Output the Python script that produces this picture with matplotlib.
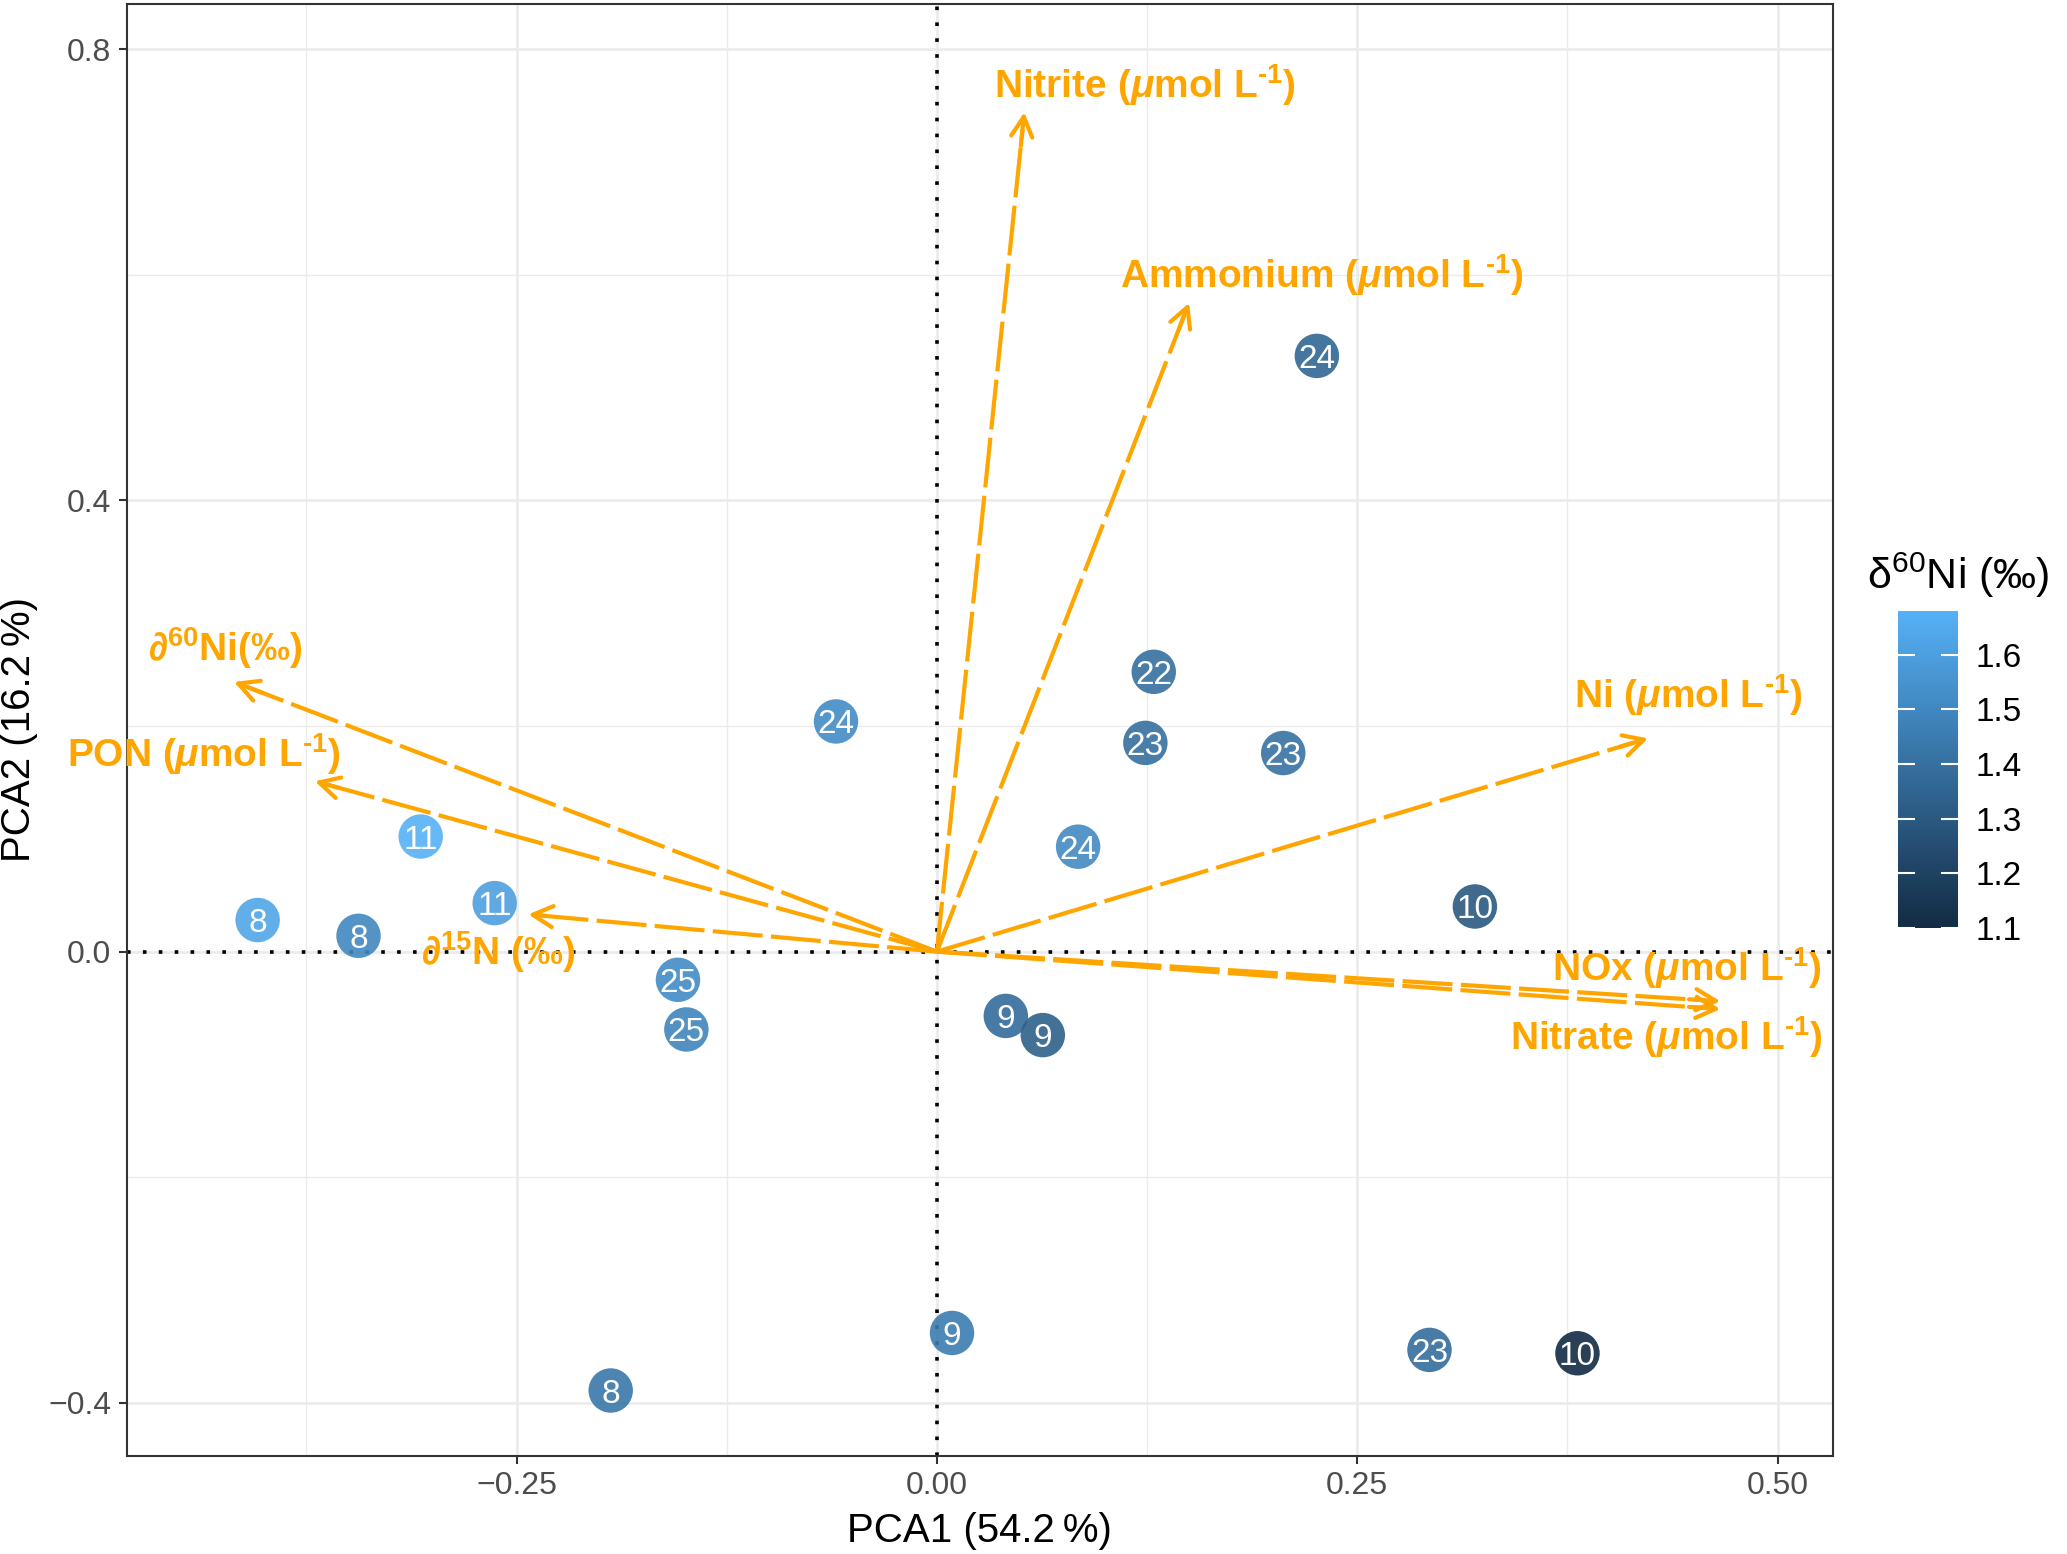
import numpy as np
import matplotlib
matplotlib.use("Agg")
import matplotlib.pyplot as plt
from matplotlib.colors import LinearSegmentedColormap, Normalize
from matplotlib.ticker import MultipleLocator

plt.rcParams['font.family'] = ['Liberation Sans', 'DejaVu Sans']
plt.rcParams['mathtext.fontset'] = 'custom'
plt.rcParams['mathtext.rm'] = 'Liberation Sans'
plt.rcParams['mathtext.it'] = 'Liberation Sans:italic'
plt.rcParams['mathtext.bf'] = 'Liberation Sans:bold'
plt.rcParams['mathtext.bfit'] = 'Liberation Sans:bold:italic'

# individuals (sample scores)
pc1 = [0.226, 0.129, 0.124, 0.206, -0.060, 0.084, -0.307, -0.263, -0.404, -0.344,
       -0.154, -0.149, 0.320, 0.041, 0.063, 0.009, -0.194, 0.293, 0.381]
pc2 = [0.528, 0.248, 0.185, 0.176, 0.204, 0.093, 0.102, 0.043, 0.028, 0.014,
       -0.025, -0.069, 0.040, -0.057, -0.074, -0.338, -0.389, -0.353, -0.356]
sample = ['24', '22', '23', '23', '24', '24', '11', '11', '8', '8',
          '25', '25', '10', '9', '9', '9', '8', '23', '10']
d60ni = [1.36, 1.40, 1.40, 1.41, 1.52, 1.51, 1.68, 1.60, 1.63, 1.50,
         1.52, 1.49, 1.30, 1.38, 1.33, 1.45, 1.43, 1.39, 1.10]

# variable loadings (arrows)
var_names = ['Nitrite', 'Ammonium', 'Ni', 'NOx', 'Nitrate', 'd60Ni', 'PON', 'd15N']
var_x = [0.052, 0.150, 0.423, 0.466, 0.466, -0.418, -0.370, -0.243]
var_y = [0.744, 0.575, 0.189, -0.044, -0.051, 0.239, 0.151, 0.033]
unit = ' ($\\mathbfit{μ}$mol L$^{\\mathregular{\u20101}}$)'
var_labels = ['Nitrite' + unit, 'Ammonium' + unit, 'Ni' + unit, 'NOx' + unit,
              'Nitrate' + unit, r'∂$^{\mathregular{60}}$Ni(‰)', 'PON' + unit,
              r'∂$^{\mathregular{15}}$N (‰)']
label_xy = [(0.124, 0.768), (0.229, 0.600), (0.447, 0.227), (0.446, -0.015),
            (0.434, -0.076), (-0.423, 0.269), (-0.436, 0.175), (-0.261, 0.0)]

xticks = [-0.25, 0.0, 0.25, 0.50]
xticklabels = ['\u22120.25', '0.00', '0.25', '0.50']
yticks = [-0.4, 0.0, 0.4, 0.8]
yticklabels = ['\u22120.4', '0.0', '0.4', '0.8']
cbar_ticks = [1.1, 1.2, 1.3, 1.4, 1.5, 1.6]

orange = '#FFA500'
cmap = LinearSegmentedColormap.from_list('gg', ['#132B43', '#56B1F7'])
norm = Normalize(vmin=min(d60ni), vmax=max(d60ni))

fig = plt.figure(figsize=(20.67, 15.54), dpi=100)
ax = fig.add_axes([0.0612, 0.0631, 0.8256, 0.9344])

ax.set_xlim(-0.482, 0.533)
ax.set_ylim(-0.447, 0.840)
ax.set_xticks(xticks)
ax.set_xticklabels(xticklabels)
ax.set_yticks(yticks)
ax.set_yticklabels(yticklabels)
ax.xaxis.set_minor_locator(MultipleLocator(0.125))
ax.yaxis.set_minor_locator(MultipleLocator(0.2))
ax.set_axisbelow(True)
ax.grid(which='major', color='#EBEBEB', lw=1.9)
ax.grid(which='minor', color='#EBEBEB', lw=1.0)
ax.tick_params(which='major', length=6, width=1.5, color='#333333',
               labelsize=23, labelcolor='#4D4D4D', pad=5)
ax.tick_params(which='minor', length=0)
for s in ax.spines.values():
    s.set_color('#333333')
    s.set_linewidth(1.5)

ax.axhline(0, color='black', ls=(0, (1, 3.4)), lw=2.6, zorder=1.5)
ax.axvline(0, color='black', ls=(0, (1, 3.4)), lw=2.6, zorder=1.5)

ax.scatter(pc1, pc2, c=d60ni, cmap=cmap, norm=norm, s=1024, alpha=0.9,
           linewidths=0, zorder=3)
for x, y, t in zip(pc1, pc2, sample):
    ax.text(x, y, t, color='white', fontsize=24, ha='center', va='center_baseline', zorder=4)

for i in range(len(var_names)):
    x, y = var_x[i], var_y[i]
    ax.plot([0, x * 0.98], [0, y * 0.98], color=orange, lw=3.0,
            ls=(0, (12, 2)), zorder=5)
    ax.annotate('', xy=(x, y), xytext=(x * 0.96, y * 0.96),
                arrowprops=dict(arrowstyle='->,head_length=0.72,head_width=0.38',
                                color=orange, lw=3.0, shrinkA=0, shrinkB=0,
                                mutation_scale=20), zorder=5)
    lx, ly = label_xy[i]
    ax.text(lx, ly, var_labels[i], color=orange, fontsize=28, fontweight='bold',
            ha='center', va='center', zorder=6)

ax.set_xlabel('PCA1 (54.2\u2009%)', fontsize=29, labelpad=8)
ax.set_ylabel('PCA2 (16.2\u2009%)', fontsize=29)
ax.yaxis.set_label_coords(-0.052, 0.5)

cax = fig.add_axes([0.918, 0.4028, 0.0295, 0.204])
sm = plt.cm.ScalarMappable(norm=norm, cmap=cmap)
cb = fig.colorbar(sm, cax=cax, ticks=cbar_ticks)
cb.outline.set_visible(False)
cax.tick_params(axis='y', direction='in', color='white', length=12, width=1.5,
                left=True, right=True, labelsize=24, labelcolor='black', pad=12)
cax.set_yticklabels(['1.1', '1.2', '1.3', '1.4', '1.5', '1.6'])
cax.set_title(r'δ$^{\mathregular{60}}$Ni (‰)', fontsize=31, pad=16, loc='left', x=-0.5)

fig.savefig('out.png', dpi=100)
